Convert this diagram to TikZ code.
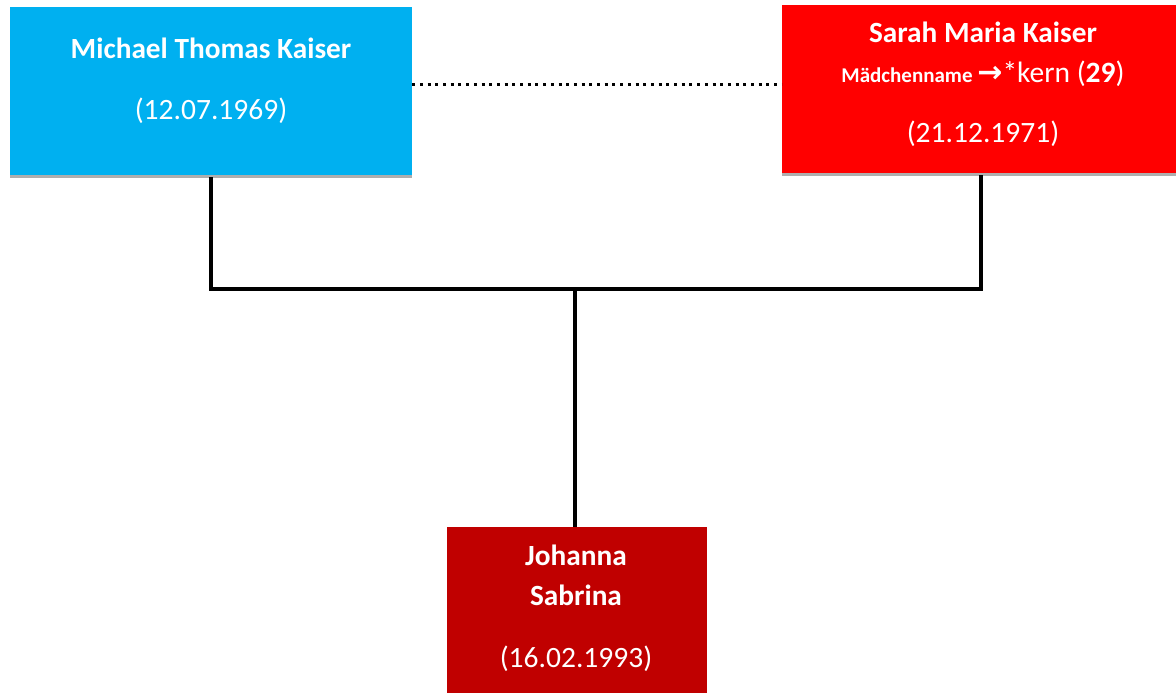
\documentclass[tikz,border=0pt]{standalone}
\usepackage{fontspec}
\setmainfont{Carlito}
\newfontfamily\arrowfont{DejaVu Sans}
\usepackage{xcolor}
\usetikzlibrary{shadows}

\definecolor{kblue}{HTML}{00B0F0}
\definecolor{kred}{HTML}{FF0000}
\definecolor{kdarkred}{HTML}{C00000}

\tikzset{
	person/.style={rectangle,draw=none,inner sep=0pt,
		drop shadow={shadow xshift=0pt,shadow yshift=-2.5pt,fill=black!45,opacity=.7}},
	personname/.style={anchor=base,text=white,font=\fontsize{29.3}{32}\selectfont\bfseries},
	persondate/.style={anchor=base,text=white,font=\fontsize{29.5}{32}\selectfont},
	line/.style={line width=3.5pt,black}
}

\begin{document}
\begin{tikzpicture}[x=1pt,y=-1pt]
	\useasboundingbox (0,0) rectangle (1176,693);
	
	\node[person,fill=kblue,minimum width=402pt,minimum height=168pt] (michael) at (211,91) {};
	\node[personname] (michaelname) at (211,59) {Michael Thomas Kaiser};
	\node[persondate] (michaeldate) at (211,120) {(12.07.1969)};
	
	\node[person,fill=kred,minimum width=398pt,minimum height=168pt] (sarah) at (981,89) {};
	\node[personname] (sarahname) at (983,43) {Sarah Maria Kaiser};
	\node[persondate] (sarahmaiden) at (983,82) {{\bfseries\fontsize{21}{23}\selectfont Mädchenname }{\arrowfont\bfseries\fontsize{30}{34}\selectfont →}*kern (\textbf{29})};
	\node[persondate] (sarahdate) at (983,142) {(21.12.1971)};
	
	\node[person,fill=kdarkred,minimum width=260pt,minimum height=180pt] (johanna) at (577,617) {};
	\node[personname] (johannafirst) at (576,565) {Johanna};
	\node[personname] (johannasecond) at (576,605) {Sabrina};
	\node[persondate] (johannadate) at (576,667) {(16.02.1993)};
	
	\coordinate (fork) at (575,289);
	\draw[line,line width=3pt,dash pattern=on 3pt off 4.7pt] ([yshift=6pt]michael.east) -- ([yshift=4pt]sarah.west);
	\draw[line] ([yshift=-2pt]michael.south) |- (fork) -| ([yshift=-2pt]sarah.south);
	\draw[line] (fork) -- (fork |- johanna.north);
\end{tikzpicture}
\end{document}
